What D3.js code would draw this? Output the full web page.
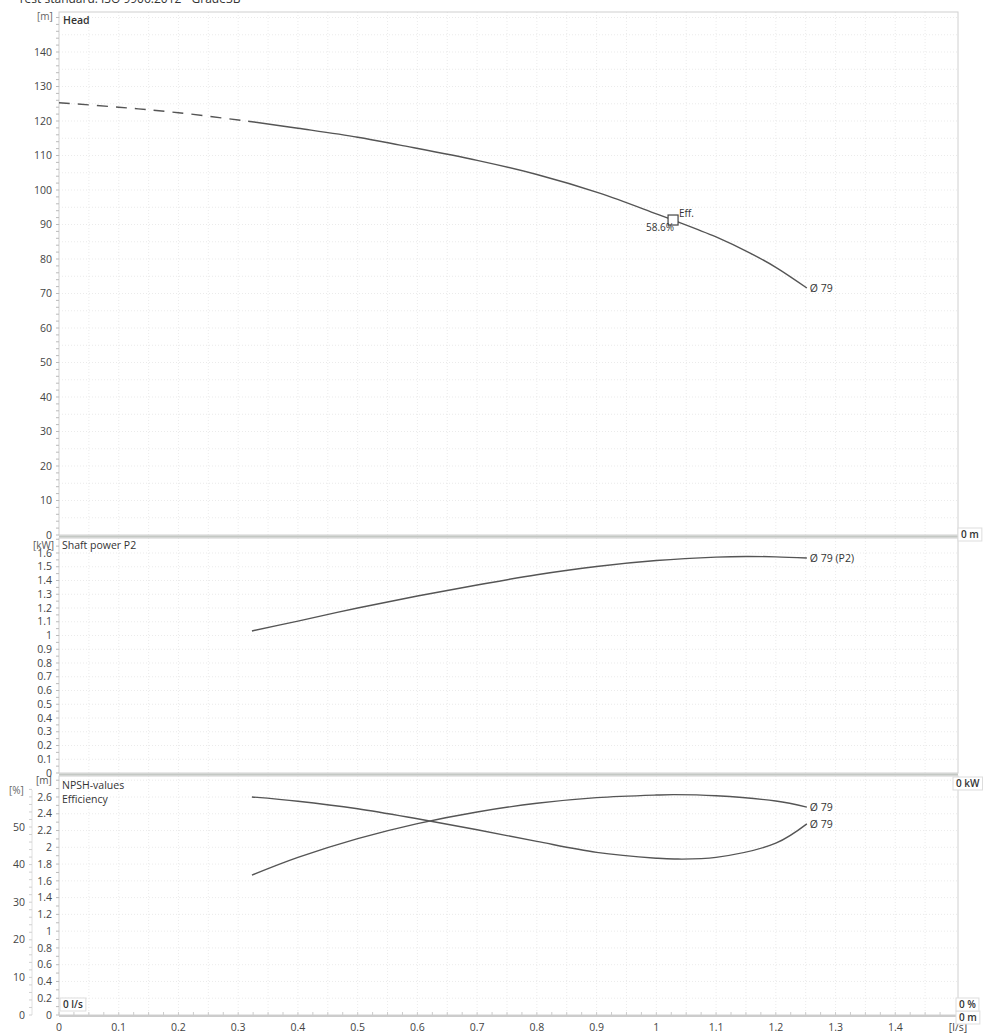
<!DOCTYPE html>
<html>
<head>
<meta charset="utf-8">
<title>Pump curves</title>
<style>
  body { margin: 0; background: #fff; }
  svg { display: block; }
  text { font-family: "Open Sans", "DejaVu Sans", sans-serif; fill: #444; }
</style>
</head>
<body>
<svg id="chart" width="983" height="1034"></svg>

<script src="https://d3js.org/d3.v7.min.js"></script>
<script type="text/javascript">

// flow [l/s] and curve values
const headDashedQ = [0, 0.1, 0.2, 0.323];
const headDashedH = [125.3, 124.0, 122.4, 119.8];
const headQ = [0.323, 0.4, 0.5, 0.571, 0.7, 0.8, 0.905, 1.0, 1.028, 1.1, 1.157, 1.2, 1.252];
const headH = [119.8, 117.9, 115.3, 113.0, 108.6, 104.5, 99.1, 93.1, 91.3, 86.4, 81.7, 77.6, 71.6];

const powerQ = [0.323, 0.4, 0.5, 0.6, 0.7, 0.8, 0.9, 1.0, 1.1, 1.15, 1.2, 1.252];
const powerP2 = [1.033, 1.105, 1.2, 1.287, 1.367, 1.442, 1.502, 1.545, 1.57, 1.575, 1.572, 1.564];

const npshQ = [0.323, 0.4, 0.5, 0.6, 0.7, 0.8, 0.9, 1.0, 1.03, 1.1, 1.2, 1.252];
const npshM = [2.60, 2.55, 2.46, 2.34, 2.21, 2.07, 1.94, 1.87, 1.86, 1.88, 2.05, 2.28];

const effQ = [0.323, 0.4, 0.5, 0.6, 0.7, 0.8, 0.9, 1.0, 1.03, 1.1, 1.2, 1.252];
const effPct = [37.2, 41.9, 46.9, 50.9, 54.0, 56.3, 57.8, 58.5, 58.6, 58.3, 56.9, 55.3];

const bep = { q: 1.028, h: 91.3, eff: "58.6%" };

const qTicks = [0, 0.1, 0.2, 0.3, 0.4, 0.5, 0.6, 0.7, 0.8, 0.9, 1, 1.1, 1.2, 1.3, 1.4];
const headTicks = [0, 10, 20, 30, 40, 50, 60, 70, 80, 90, 100, 110, 120, 130, 140];
const powerTicks = [0, 0.1, 0.2, 0.3, 0.4, 0.5, 0.6, 0.7, 0.8, 0.9, 1, 1.1, 1.2, 1.3, 1.4, 1.5, 1.6];
const npshTicks = [0, 0.2, 0.4, 0.6, 0.8, 1, 1.2, 1.4, 1.6, 1.8, 2, 2.2, 2.4, 2.6];
const effTicks = [0, 10, 20, 30, 40, 50];

const svg = d3.select('#chart');

const left = 59, right = 958;
const x = d3.scaleLinear().domain([0, 1.5]).range([left, 955]);
const yHead = d3.scaleLinear().domain([0, 150]).range([535, 17.5]);
const yPower = d3.scaleLinear().domain([0, 1.6]).range([773, 553]);
const yNpsh = d3.scaleLinear().domain([0, 2.6]).range([1015, 797]);
const yEff = d3.scaleLinear().domain([0, 50]).range([1015, 827]);

const panels = [
    { top: 12, bottom: 535, y: yHead, ticks: headTicks, minor: d3.range(0, 152, 2), grid: d3.range(0, 151, 5) },
    { top: 538, bottom: 773, y: yPower, ticks: powerTicks, minor: d3.range(0, 1.71, 0.05), grid: d3.range(0, 1.71, 0.1) },
    { top: 776, bottom: 1015, y: yNpsh, ticks: npshTicks, minor: d3.range(0, 2.86, 0.1), grid: d3.range(0, 2.81, 0.2) }
];

// title (cut off at the top of the page)
svg.append('text')
    .attr('x', 18).attr('y', 3)
    .style('font-size', '12px').style('fill', '#333')
    .text('Test standard: ISO 9906:2012 - Grade3B');

// grid
const grid = svg.append('g').attr('class', 'grid')
    .attr('stroke', '#e6e6e6').attr('stroke-width', 0.8).attr('stroke-dasharray', '1,2');

panels.forEach(p => {
    grid.append('g').selectAll('line')
        .data(d3.range(0.05, 1.5, 0.05))
        .join('line')
            .attr('x1', d => x(d)).attr('x2', d => x(d))
            .attr('y1', p.top).attr('y2', p.bottom);
    grid.append('g').selectAll('line')
        .data(p.grid.filter(v => p.y(v) > p.top + 2 && p.y(v) < p.bottom - 1))
        .join('line')
            .attr('x1', left).attr('x2', right)
            .attr('y1', d => p.y(d)).attr('y2', d => p.y(d));
});

// panel frames
panels.forEach(p => {
    svg.append('rect')
        .attr('x', left).attr('y', p.top)
        .attr('width', right - left).attr('height', p.bottom - p.top)
        .attr('fill', 'none').attr('stroke', '#d0d0d0');
});
// separators
[536.5, 774.5].forEach(yy => {
    svg.append('line').attr('x1', left).attr('x2', right).attr('y1', yy).attr('y2', yy)
        .attr('stroke', '#c4c8c4').attr('stroke-width', 2);
});

// left axes
panels.forEach(p => {
    const g = svg.append('g').attr('class', 'y-axis');
    g.selectAll('line.minor')
        .data(p.minor)
        .join('line').attr('class', 'minor')
            .attr('x1', left - 3).attr('x2', left)
            .attr('y1', d => p.y(d)).attr('y2', d => p.y(d))
            .attr('stroke', '#bbb');
    g.selectAll('text')
        .data(p.ticks)
        .join('text')
            .attr('x', 52).attr('y', d => p.y(d))
            .attr('dy', '0.35em')
            .attr('text-anchor', 'end')
            .style('font-size', '10.5px')
            .text(d => d);
});

// efficiency axis (outer left)
const effAxis = svg.append('g').attr('class', 'eff-axis');
effAxis.append('line')
    .attr('x1', 32).attr('x2', 32).attr('y1', 790).attr('y2', 1015)
    .attr('stroke', '#e0e0e0');
effAxis.selectAll('line.minor')
    .data(d3.range(0, 61, 2))
    .join('line').attr('class', 'minor')
        .attr('x1', 29).attr('x2', 32)
        .attr('y1', d => yEff(d)).attr('y2', d => yEff(d))
        .attr('stroke', '#d0d0d0');
effAxis.selectAll('text')
    .data(effTicks)
    .join('text')
        .attr('x', 25).attr('y', d => yEff(d))
        .attr('dy', '0.35em')
        .attr('text-anchor', 'end')
        .style('font-size', '10.5px')
        .text(d => d);

// bottom axis
const xAxis = svg.append('g').attr('class', 'x-axis');
xAxis.append('line')
    .attr('x1', left).attr('x2', right).attr('y1', 1016).attr('y2', 1016)
    .attr('stroke', '#ccc').attr('stroke-width', 2);
xAxis.selectAll('line.minor')
    .data(d3.range(0, 1.5, 0.025))
    .join('line').attr('class', 'minor')
        .attr('x1', d => x(d)).attr('x2', d => x(d))
        .attr('y1', 1012).attr('y2', 1015)
        .attr('stroke', '#ccc');
xAxis.selectAll('text')
    .data(qTicks)
    .join('text')
        .attr('x', d => x(d)).attr('y', 1031)
        .attr('text-anchor', 'middle')
        .style('font-size', '10.5px')
        .text(d => d);
xAxis.append('text')
    .attr('x', 958).attr('y', 1031).attr('text-anchor', 'middle')
    .style('font-size', '10.5px').text('[l/s]');

// unit and panel labels
const lbl = (tx, ty, t, opts = {}) => svg.append('text')
    .attr('x', tx).attr('y', ty)
    .attr('text-anchor', opts.anchor || 'start')
    .style('font-size', (opts.size || 10.5) + 'px')
    .style('font-weight', opts.weight || 400)
    .style('fill', opts.fill || '#444')
    .text(t);

lbl(37, 20, '[m]', { size: 10, fill: '#666' });
lbl(63, 24, 'Head', { weight: 600, fill: '#333' });
lbl(33, 549, '[kW]', { size: 10, fill: '#555' });
lbl(62, 549, 'Shaft power P2', { fill: '#333' });
lbl(36, 784, '[m]', { size: 10, fill: '#555' });
lbl(62, 789, 'NPSH-values', { fill: '#333' });
lbl(62, 803, 'Efficiency', { fill: '#333' });
lbl(9, 794, '[%]', { size: 10, fill: '#666' });

// curves
const lineOf = (xs, ys, yScale) => d3.line()
    .x(d => x(d[0])).y(d => yScale(d[1]))
    .curve(d3.curveCatmullRom.alpha(0.5))(d3.zip(xs, ys));

const curves = svg.append('g').attr('class', 'curves')
    .attr('fill', 'none').attr('stroke', '#555').attr('stroke-width', 1.4);

curves.append('path').attr('d', lineOf(headDashedQ, headDashedH, yHead))
    .attr('stroke-dasharray', '11,8');
curves.append('path').attr('d', lineOf(headQ, headH, yHead));
curves.append('path').attr('d', lineOf(powerQ, powerP2, yPower));
curves.append('path').attr('d', lineOf(npshQ, npshM, yNpsh));
curves.append('path').attr('d', lineOf(effQ, effPct, yEff));

// best efficiency point
svg.append('rect')
    .attr('x', x(bep.q) - 5).attr('y', yHead(bep.h) - 5)
    .attr('width', 10).attr('height', 10)
    .attr('fill', '#fff').attr('stroke', '#444').attr('stroke-width', 1.2);
lbl(x(bep.q) + 6, yHead(bep.h) - 3, 'Eff.', { size: 10, fill: '#333' });
lbl(x(bep.q) + 1, yHead(bep.h) + 11, bep.eff, { size: 10, anchor: 'end', fill: '#333' });

// curve end labels
const endLabel = (xs, ys, yScale, t, dy = 0) =>
    lbl(x(xs[xs.length - 1]) + 3, yScale(ys[ys.length - 1]) + 4 + dy, t, { size: 10.5, fill: '#333' });
endLabel(headQ, headH, yHead, 'Ø 79');
endLabel(powerQ, powerP2, yPower, 'Ø 79 (P2)', 0);
endLabel(effQ, effPct, yEff, 'Ø 79');
endLabel(npshQ, npshM, yNpsh, 'Ø 79');

// value boxes
const valueBox = (bx, by, t) => {
    const g = svg.append('g');
    const txt = g.append('text').attr('x', bx + 3).attr('y', by + 10)
        .style('font-size', '10px').style('font-weight', 600).style('fill', '#333').text(t);
    const w = txt.node().getComputedTextLength() + 6;
    g.insert('rect', 'text').attr('x', bx).attr('y', by).attr('width', w).attr('height', 13)
        .attr('fill', '#fff').attr('stroke', '#ddd');
};
valueBox(958, 528, '0 m');
valueBox(953, 777, '0 kW');
valueBox(60, 998, '0 l/s');
valueBox(956, 1011, '0 m');
valueBox(956, 998, '0 %');

</script>
</body>
</html>
